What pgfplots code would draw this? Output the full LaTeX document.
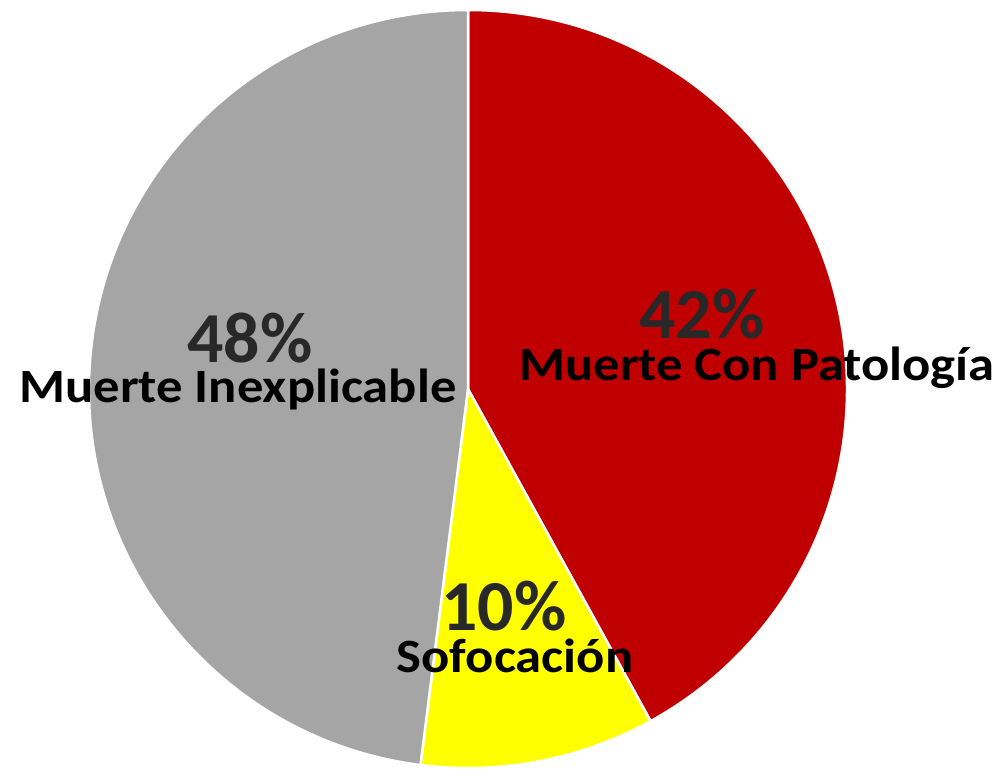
\documentclass[border=0pt]{standalone}
\usepackage{pgfplots}
\pgfplotsset{compat=1.18}
\usepackage{pgfplotstable}
\usepackage{fontspec}
\setmainfont{Carlito}
\definecolor{cRed}{HTML}{C00000}
\definecolor{cYel}{HTML}{FFFF00}
\definecolor{cGray}{HTML}{A5A5A5}
\definecolor{cPct}{HTML}{282828}

\pgfplotstableread[col sep=comma]{
name,value
Muerte Con Patología,42
Sofocación,10
Muerte Inexplicable,48
}\piedata

\pgfplotstablegetelem{0}{value}\of\piedata \edef\vA{\pgfplotsretval}
\pgfplotstablegetelem{1}{value}\of\piedata \edef\vB{\pgfplotsretval}
\pgfplotstablegetelem{2}{value}\of\piedata \edef\vC{\pgfplotsretval}
\pgfplotstablegetelem{0}{name}\of\piedata \edef\nA{\pgfplotsretval}
\pgfplotstablegetelem{1}{name}\of\piedata \edef\nB{\pgfplotsretval}
\pgfplotstablegetelem{2}{name}\of\piedata \edef\nC{\pgfplotsretval}
\pgfmathsetmacro\aA{90}
\pgfmathsetmacro\aB{\aA-3.6*\vA}
\pgfmathsetmacro\aC{\aB-3.6*\vB}
\pgfmathsetmacro\aD{\aC-3.6*\vC}
\newcommand\wide[1]{\scalebox{1.1}[1]{#1}}

\begin{document}
\begin{tikzpicture}
\begin{axis}[
  hide axis, scale only axis,
  width=997bp, height=765bp,
  xmin=0, xmax=997, ymin=0, ymax=765,
  clip=false,
]
\path (axis cs:0,0) rectangle (axis cs:997,765);
\def\cx{468}\def\cy{376}\def\R{379bp}
\filldraw[fill=cRed, draw=white, line width=2.5bp, line join=round]
  (axis cs:\cx,\cy) -- ++(\aA:\R) arc[start angle=\aA, end angle=\aB, radius=\R] -- cycle;
\filldraw[fill=cYel, draw=white, line width=2.5bp, line join=round]
  (axis cs:\cx,\cy) -- ++(\aB:\R) arc[start angle=\aB, end angle=\aC, radius=\R] -- cycle;
\filldraw[fill=cGray, draw=white, line width=2.5bp, line join=round]
  (axis cs:\cx,\cy) -- ++(\aC:\R) arc[start angle=\aC, end angle=\aD, radius=\R] -- cycle;
\tikzset{pct/.style={anchor=base, inner sep=0pt, text=cPct, font=\fontsize{72}{72}\selectfont\bfseries},
         lbl/.style={anchor=base, inner sep=0pt, text=black, font=\fontsize{48}{48}\selectfont\bfseries}}
\node[pct] at (axis cs:702,427) {\vA\%};
\node[lbl] at (axis cs:757,385) {\wide{\nA}};
\node[pct] at (axis cs:250,403) {\vC\%};
\node[lbl] at (axis cs:238,363) {\wide{\nC}};
\node[pct] at (axis cs:504,135) {\vB\%};
\node[lbl] at (axis cs:515,93) {\wide{\nB}};
\end{axis}
\end{tikzpicture}
\end{document}
